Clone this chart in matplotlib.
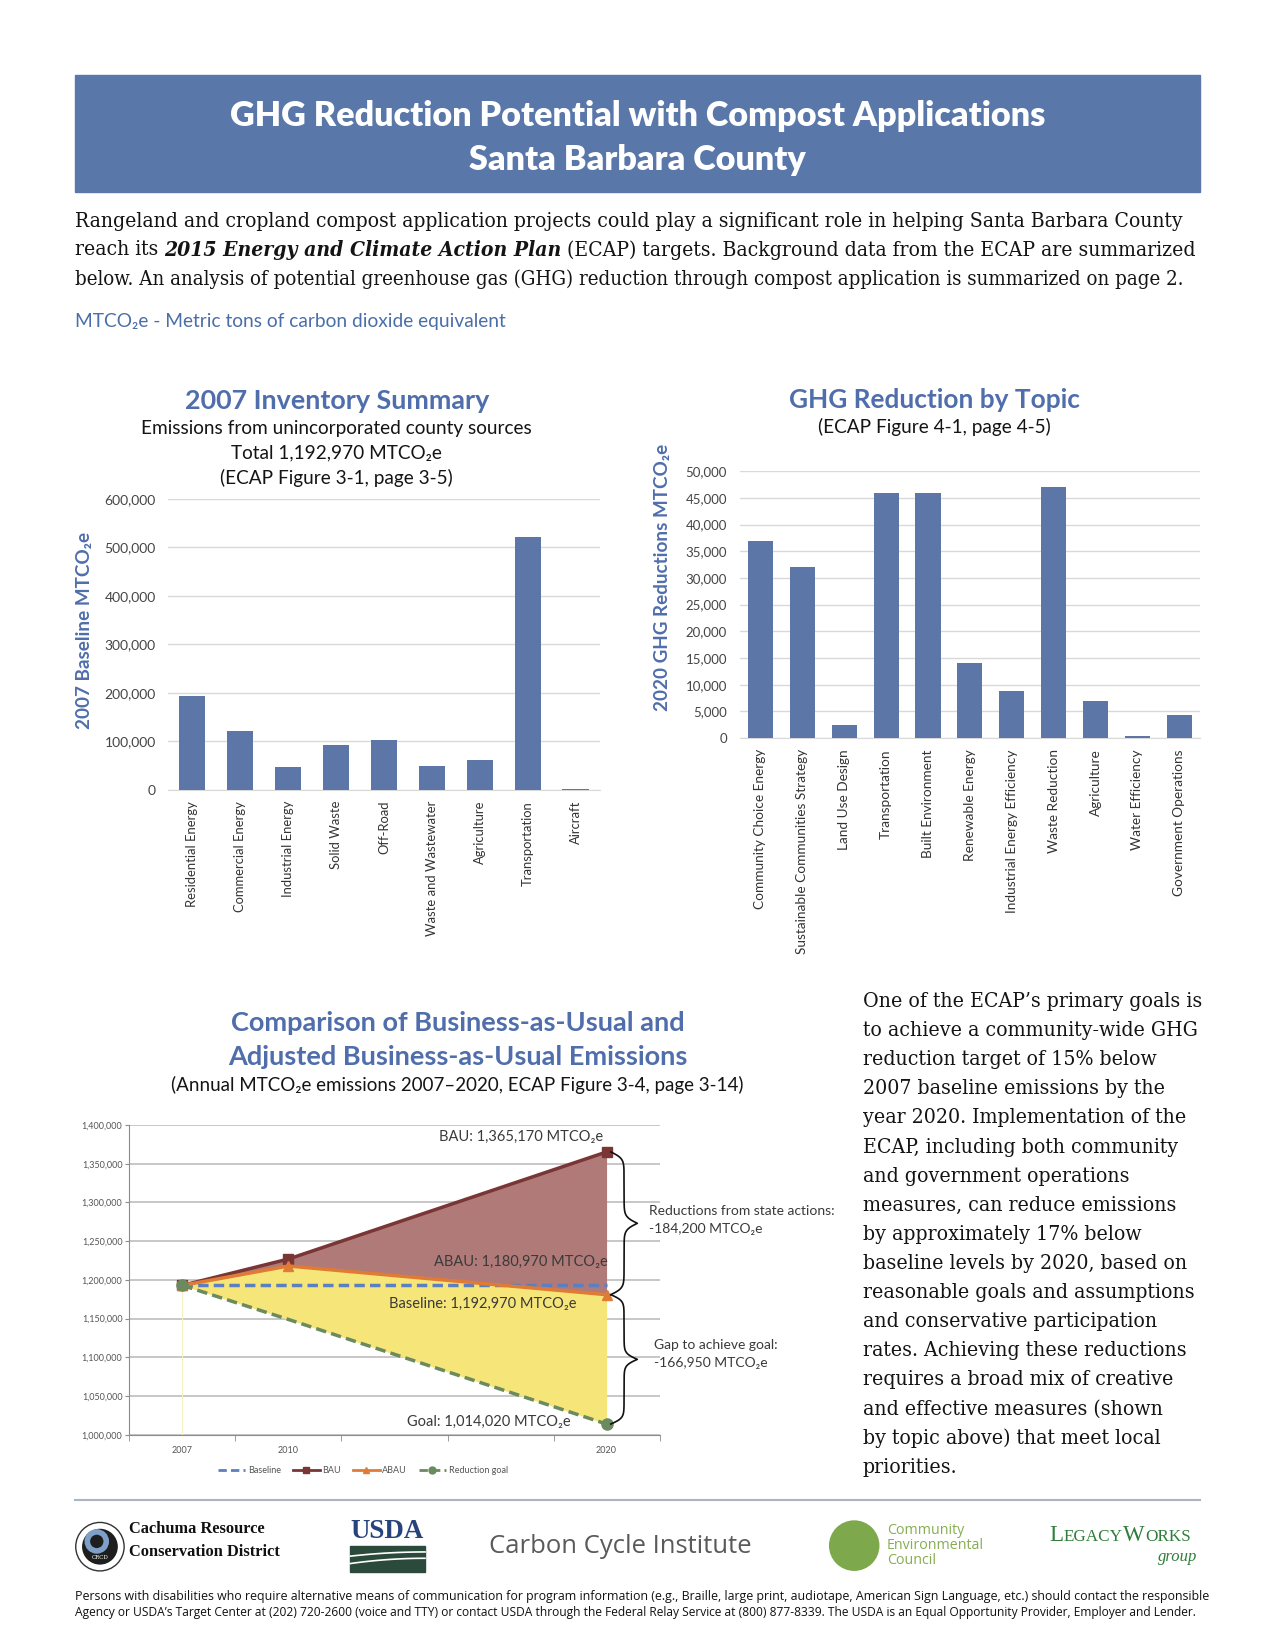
import numpy as np
import matplotlib
matplotlib.use("Agg")
import matplotlib.pyplot as plt
from matplotlib.patches import Rectangle, Circle
from matplotlib.lines import Line2D
from matplotlib.ticker import FuncFormatter, MultipleLocator

plt.rcParams['font.family'] = ['Lato', 'DejaVu Sans']

# ---------------- data ----------------
inv_cats = ["Residential Energy", "Commercial Energy", "Industrial Energy", "Solid Waste",
            "Off-Road", "Waste and Wastewater", "Agriculture", "Transportation", "Aircraft"]
inv_vals = [194000, 121000, 47000, 92000, 102000, 49000, 61000, 520000, 2000]

topic_cats = ["Community Choice Energy", "Sustainable Communities Strategy", "Land Use Design",
              "Transportation", "Built Environment", "Renewable Energy",
              "Industrial Energy Efficiency", "Waste Reduction", "Agriculture",
              "Water Efficiency", "Government Operations"]
topic_vals = [37000, 32000, 2500, 46000, 46000, 14000, 8800, 47000, 6900, 350, 4300]

year_slots = ["2007", "2010", "", "", "2020"]
pt_years = ["2007", "2010", "2020"]
baseline = [1192970, 1192970, 1192970]
bau = [1192970, 1227000, 1365170]
abau = [1192970, 1218000, 1180970]
goal = [1192970, 1149000, 1014020]

# colours
BAND = '#5a77aa'
BAR = '#5b76a7'
TBLUE = '#4f6eab'
TXT = '#141414'

# ---------------- page ----------------
W, H = 1212, 1565          # layout units = reference pixels
px = 1275 / W
fig = plt.figure(figsize=(12.75, 16.5), dpi=100)
pg = fig.add_axes([0, 0, 1, 1])
pg.set_xlim(0, W)
pg.set_ylim(H, 0)
pg.axis('off')
rend = fig.canvas.get_renderer()


def rect(x0, y0, x1, y1):
    return [x0 / W, 1 - y1 / H, (x1 - x0) / W, (y1 - y0) / H]


def fit(x, y, s, w, size=12, **kw):
    # text scaled so that its long side spans w layout units
    t = pg.text(x, y, s, fontsize=size, **kw)
    bb = t.get_window_extent(renderer=rend)
    t.set_fontsize(size * w * px / max(bb.width, bb.height))
    return t


def width_of(s, size, **kw):
    t = pg.text(0, 0, s, fontsize=size, **kw)
    w = t.get_window_extent(renderer=rend).width / px
    t.remove()
    return w


# header band
pg.add_patch(Rectangle((71, 71), 1070, 111, color=BAND, zorder=0))
t = fit(606, 110, "GHG Reduction Potential with Compost Applications", 771,
        ha='center', va='center', color='white', weight='heavy')
pg.text(606, 152, "Santa Barbara County", ha='center', va='center', color='white',
        weight='heavy', fontsize=t.get_fontsize())

# intro paragraph
serif = dict(family='DejaVu Serif', stretch='condensed')
t = fit(71, 210, "Rangeland and cropland compost application projects could play a significant role "
        "in helping Santa Barbara County", 1062, ha='left', va='center', color=TXT, **serif)
bs = t.get_fontsize()
sp = width_of("a a", bs, **serif) - width_of("aa", bs, **serif)
x = 71
for s, kw in [("reach its", {}),
              ("2015 Energy and Climate Action Plan", {'weight': 'bold', 'style': 'italic'}),
              ("(ECAP) targets. Background data from the ECAP are summarized", {})]:
    tt = pg.text(x, 237, s, fontsize=bs, ha='left', va='center', color=TXT, **serif, **kw)
    x += tt.get_window_extent(renderer=rend).width / px + sp
fit(71, 265, "below. An analysis of potential greenhouse gas (GHG) reduction through compost "
    "application is summarized on page 2.", 1062, ha='left', va='center', color=TXT, **serif)
fit(71, 305, "MTCO₂e - Metric tons of carbon dioxide equivalent", 410, ha='left', va='center',
    color='#4a6ea9')

# ---------------- chart 1 ----------------
t = fit(320, 380, "2007 Inventory Summary", 289, ha='center', va='center', color=TBLUE, weight='bold')
t = fit(320, 406, "Emissions from unincorporated county sources", 371, ha='center', va='center', color=TXT)
ss = t.get_fontsize()
pg.text(320, 430, "Total 1,192,970 MTCO₂e", ha='center', va='center', color=TXT, fontsize=ss)
pg.text(320, 453, "(ECAP Figure 3-1, page 3-5)", ha='center', va='center', color=TXT, fontsize=ss)
fit(80, 598, "2007 Baseline MTCO₂e", 187, rotation=90, ha='center', va='center',
    color=TBLUE, weight='bold')

ax1 = fig.add_axes(rect(160, 473, 570, 749))
ax1.set_facecolor('none')
ax1.bar(np.arange(len(inv_cats)), inv_vals, width=0.55, color=BAR, zorder=3)
ax1.set_xlim(-0.5, len(inv_cats) - 0.5)
ax1.set_ylim(0, 600000)
ax1.yaxis.set_major_locator(MultipleLocator(100000))
ax1.yaxis.set_major_formatter(FuncFormatter(lambda v, p: f"{int(v):,}"))
ax1.grid(axis='y', color='#d9d9d9', lw=1, zorder=0)
for s in ['top', 'right', 'left']:
    ax1.spines[s].set_visible(False)
ax1.spines['bottom'].set_color('#d9d9d9')
ax1.set_xticks(np.arange(len(inv_cats)))
ax1.set_xticklabels(inv_cats, rotation=90, fontsize=9.4, color='#333333')
ax1.tick_params(axis='y', length=0, labelsize=10, labelcolor='#454545', pad=9)
ax1.tick_params(axis='x', length=0, pad=8)

# ---------------- chart 2 ----------------
fit(888, 379, "GHG Reduction by Topic", 275, ha='center', va='center', color=TBLUE, weight='bold')
pg.text(888, 405, "(ECAP Figure 4-1, page 4-5)", ha='center', va='center', color=TXT, fontsize=ss)
fit(630, 548, "2020 GHG Reductions MTCO₂e", 253, rotation=90, ha='center', va='center',
    color=TBLUE, weight='bold')

ax2 = fig.add_axes(rect(703, 447, 1141, 700))
ax2.set_facecolor('none')
ax2.bar(np.arange(len(topic_cats)), topic_vals, width=0.6, color=BAR, zorder=3)
ax2.set_xlim(-0.5, len(topic_cats) - 0.5)
ax2.set_ylim(0, 50000)
ax2.yaxis.set_major_locator(MultipleLocator(5000))
ax2.yaxis.set_major_formatter(FuncFormatter(lambda v, p: f"{int(v):,}"))
ax2.grid(axis='y', color='#d9d9d9', lw=1, zorder=0)
for s in ['top', 'right', 'left']:
    ax2.spines[s].set_visible(False)
ax2.spines['bottom'].set_color('#d9d9d9')
ax2.set_xticks(np.arange(len(topic_cats)))
ax2.set_xticklabels(topic_cats, rotation=90, fontsize=9.8, color='#333333')
ax2.tick_params(axis='y', length=0, labelsize=9.5, labelcolor='#454545', pad=9)
ax2.tick_params(axis='x', length=0, pad=8)

# ---------------- chart 3 ----------------
t = fit(435, 970, "Comparison of Business-as-Usual and", 429, ha='center', va='center',
        color=TBLUE, weight='bold')
pg.text(435, 1003, "Adjusted Business-as-Usual Emissions", ha='center', va='center',
        color=TBLUE, weight='bold', fontsize=t.get_fontsize())
fit(435, 1029, "(Annual MTCO₂e emissions 2007–2020, ECAP Figure 3-4, page 3-14)", 541,
    ha='center', va='center', color=TXT)

ax3 = fig.add_axes(rect(123, 1067, 627, 1361))
ax3.set_facecolor('none')
xp = [year_slots.index(y) for y in pt_years]
c_base, c_bau, c_abau, c_goal = '#5b7fbf', '#7a3535', '#e07b36', '#6b8a5e'
ax3.fill_between(xp, bau, abau, color='#b07a79', lw=0, zorder=2)
ax3.fill_between(xp, abau, goal, color='#f6e679', lw=0, zorder=2)
ax3.vlines(xp[0], 1000000, baseline[0], color='#f6efc4', lw=0.8, zorder=2)
ax3.plot(xp, baseline, ls=(0, (3, 1.5)), color=c_base, lw=2.5, zorder=4)
ax3.plot(xp, bau, '-', color=c_bau, lw=2.5, marker='s', ms=7, zorder=5)
ax3.plot(xp, abau, '-', color=c_abau, lw=2.5, marker='^', ms=7, zorder=5)
ax3.plot(xp, goal, ls=(0, (3, 1.5)), color=c_goal, lw=2.5, marker='o', ms=8,
         markevery=[0, 2], zorder=5)
ax3.set_xlim(-0.5, len(year_slots) - 0.5)
ax3.set_ylim(1000000, 1400000)
ax3.yaxis.set_major_locator(MultipleLocator(50000))
ax3.yaxis.set_major_formatter(FuncFormatter(lambda v, p: f"{int(v):,}"))
ax3.grid(axis='y', color='#bdbdbd', lw=1.2, zorder=1)
for s in ['top', 'right']:
    ax3.spines[s].set_visible(False)
for s in ['left', 'bottom']:
    ax3.spines[s].set_color('#8c8c8c')
ax3.set_xticks(range(len(year_slots)))
ax3.set_xticklabels(year_slots, fontsize=6.5, color='#555555')
ax3.set_xticks(np.arange(-0.5, len(year_slots)), minor=True)
ax3.tick_params(axis='x', which='major', length=0, pad=8)
ax3.tick_params(axis='x', which='minor', length=4, color='#8c8c8c')
ax3.tick_params(axis='y', length=3, color='#8c8c8c', labelsize=6.5, labelcolor='#555555', pad=2)

lab = dict(fontsize=10.5, color='#3a3a3a', va='center', zorder=6)
ax3.text(3.97, 1385000, f"BAU: {bau[-1]:,} MTCO₂e", ha='right', **lab)
ax3.text(4.01, 1223000, f"ABAU: {abau[-1]:,} MTCO₂e", ha='right', **lab)
ax3.text(3.72, 1168500, f"Baseline: {baseline[-1]:,} MTCO₂e", ha='right', **lab)
ax3.text(3.66, 1016500, f"Goal: {goal[-1]:,} MTCO₂e", ha='right', **lab)


def brace(ax, x0, ylo, yhi, w):
    th = np.linspace(0, 1, 101)
    b = 22.0
    half = 1 / (1 + np.exp(-b * th)) + 1 / (1 + np.exp(-b * (th - 1))) - 0.5
    xs = np.concatenate([half, half[::-1][1:]])
    ys = np.linspace(ylo, yhi, len(xs))
    ax.plot(x0 + w * xs, ys, color='#111111', lw=1.2, clip_on=False, zorder=6)


brace(ax3, 4.04, abau[-1], bau[-1], 0.25)
brace(ax3, 4.04, goal[-1], abau[-1], 0.25)
lab2 = dict(fontsize=10, color='#3a3a3a', va='center', ha='left', clip_on=False)
ax3.text(4.4, 1288500, "Reductions from state actions:", **lab2)
ax3.text(4.4, 1265500, f"-{bau[-1] - abau[-1]:,} MTCO₂e", **lab2)
ax3.text(4.45, 1115500, "Gap to achieve goal:", **lab2)
ax3.text(4.45, 1092500, f"-{abau[-1] - goal[-1]:,} MTCO₂e", **lab2)

handles = [Line2D([], [], color=c_base, ls=(0, (3, 1.5)), lw=2),
           Line2D([], [], color=c_bau, lw=2, marker='s', ms=5),
           Line2D([], [], color=c_abau, lw=2, marker='^', ms=5),
           Line2D([], [], color=c_goal, ls=(0, (3, 1.5)), lw=2, marker='o', ms=5)]
ax3.legend(handles, ["Baseline", "BAU", "ABAU", "Reduction goal"], loc='center',
           bbox_to_anchor=(345 / W, 1 - 1395 / H), bbox_transform=fig.transFigure,
           ncol=4, frameon=False, fontsize=6.5, labelcolor='#555555',
           handlelength=3, handletextpad=0.3, columnspacing=1.3)

# ---------------- right column text ----------------
col = ["One of the ECAP’s primary goals is", "to achieve a community-wide GHG",
       "reduction target of 15% below", "2007 baseline emissions by the",
       "year 2020. Implementation of the", "ECAP, including both community",
       "and government operations", "measures, can reduce emissions",
       "by approximately 17% below", "baseline levels by 2020, based on",
       "reasonable goals and assumptions", "and conservative participation",
       "rates. Achieving these reductions", "requires a broad mix of creative",
       "and effective measures (shown", "by topic above) that meet local", "priorities."]
t = fit(820, 977.6, col[1], 318, ha='left', va='center', color=TXT, **serif)
cs = t.get_fontsize()
t.remove()
for i, line in enumerate(col):
    pg.text(820, 950 + i * 27.6, line, fontsize=cs, ha='left', va='center', color=TXT, **serif)

# ---------------- footer ----------------
pg.plot([71, 1141], [1423, 1423], color='#a9b4c6', lw=1.5)

# Cachuma RCD
pg.add_patch(Circle((95, 1467), 23, fc='white', ec='#333333', lw=1))
pg.add_patch(Circle((95, 1467), 17, fc='#1e1e1e'))
pg.add_patch(Circle((92, 1462), 9, fc='none', ec='#7d9fc8', lw=4))
pg.text(95, 1477, "CRCD", fontsize=4, color='white', ha='center', va='center', family='DejaVu Serif')
t = fit(123, 1472, "Conservation District", 142, ha='left', va='center', color='#111111',
        family='Liberation Serif', weight='bold')
pg.text(123, 1450, "Cachuma Resource", ha='left', va='center', color='#111111',
        family='Liberation Serif', weight='bold', fontsize=t.get_fontsize())

# USDA
fit(368, 1453, "USDA", 70, ha='center', va='center', color='#26437c', family='Liberation Serif',
    weight='bold')
pg.add_patch(Rectangle((333, 1466), 71, 25, color='#2b4a3b'))
cx = np.linspace(333, 404, 50)
pg.plot(cx, 1472 + 4 * ((cx - 333) / 71 - 1) ** 2, color='white', lw=1.2)
pg.plot(cx, 1478 + 5 * ((cx - 333) / 71 - 1) ** 2, color='white', lw=1.2)

# Carbon Cycle Institute
fit(590, 1467, "Carbon Cycle Institute", 248, ha='center', va='center', color='#5a5a5a',
    family='Open Sans')

# Community Environmental Council
pg.add_patch(Circle((812, 1466), 24, fc='#7ea84c'))
t = fit(843, 1466, "Environmental", 92, ha='left', va='center', color='#86ae50', family='Open Sans')
pg.text(843, 1452, "Community", ha='left', va='center', color='#86ae50', family='Open Sans',
        fontsize=t.get_fontsize())
pg.text(843, 1480, "Council", ha='left', va='center', color='#86ae50', family='Open Sans',
        fontsize=t.get_fontsize())

# LegacyWorks
x = 997
for s, fs in [("L", 16.5), ("EGACY", 12.3), ("W", 16.5), ("ORKS", 12.3)]:
    tt = pg.text(x, 1462, s, fontsize=fs, ha='left', va='baseline', color='#2f7d3b',
                 family='Liberation Serif')
    x += tt.get_window_extent(renderer=rend).width / px + 0.5
pg.text(1138, 1477, "group", fontsize=12, ha='right', va='center', color='#2f7d3b',
        family='Liberation Serif', style='italic')

foot = ["Persons with disabilities who require alternative means of communication for program "
        "information (e.g., Braille, large print, audiotape, American Sign Language, etc.) should "
        "contact the responsible",
        "Agency or USDA’s Target Center at (202) 720-2600 (voice and TTY) or contact USDA through the "
        "Federal Relay Service at (800) 877-8339. The USDA is an Equal Opportunity Provider, Employer "
        "and Lender."]
fit(71, 1514, foot[0], 1071, ha='left', va='center', color='#111111', family='Open Sans')
fit(71, 1529, foot[1], 1071, ha='left', va='center', color='#111111', family='Open Sans')

fig.savefig("out.png", dpi=100)
